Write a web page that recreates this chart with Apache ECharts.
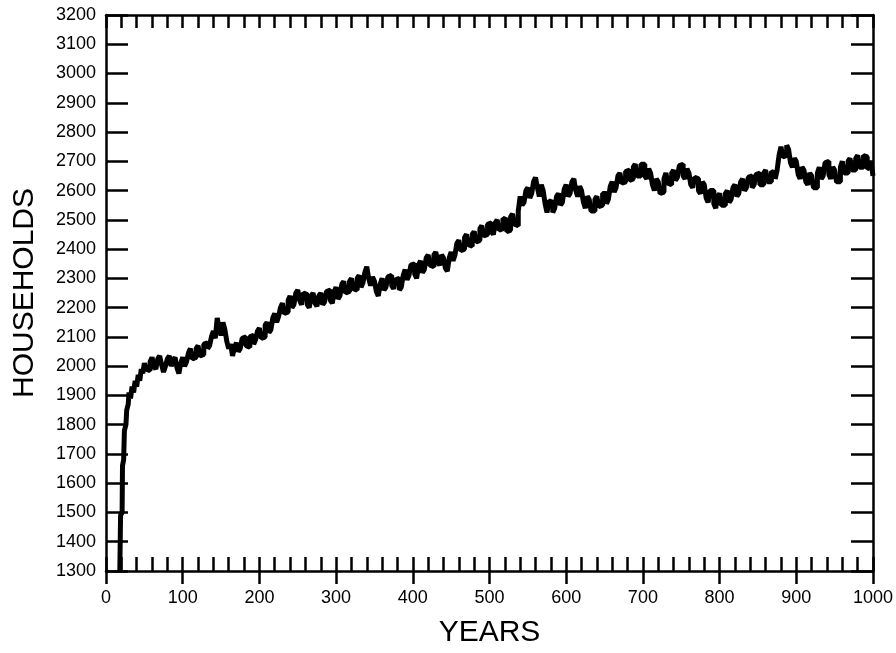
<!DOCTYPE html>
<html>
<head>
<meta charset="utf-8">
<script src="https://cdn.jsdelivr.net/npm/echarts@6/dist/echarts.min.js"></script>
<style>
html,body{margin:0;padding:0;background:#fff;}
#chart{width:896px;height:653px;}
</style>
</head>
<body>
<div id="chart"></div>
<script>
var years = [18,19,21,21.5,23,24,26,27,29,30,32,34,36,38,40,42,44,46,48,
50,52.5,55,57.5,60,62.5,65,67.5,70,72.5,75,77.5,80,82.5,85,87.5,90,92.5,95,97.5,
100,102.5,105,107.5,110,112.5,115,117.5,120,122.5,125,127.5,130,132.5,135,137.5,140,142.5,145,147.5,
150,152.5,155,157.5,160,162.5,165,167.5,170,172.5,175,177.5,180,182.5,185,187.5,190,192.5,195,197.5,
200,202.5,205,207.5,210,212.5,215,217.5,220,222.5,225,227.5,230,232.5,235,237.5,240,242.5,245,247.5,
250,252.5,255,257.5,260,262.5,265,267.5,270,272.5,275,277.5,280,282.5,285,287.5,290,292.5,295,297.5,
300,302.5,305,307.5,310,312.5,315,317.5,320,322.5,325,327.5,330,332.5,335,337.5,340,342.5,345,347.5,
350,352.5,355,357.5,360,362.5,365,367.5,370,372.5,375,377.5,380,382.5,385,387.5,390,392.5,395,397.5,
400,402.5,405,407.5,410,412.5,415,417.5,420,422.5,425,427.5,430,432.5,435,437.5,440,442.5,445,447.5,
450,452.5,455,457.5,460,462.5,465,467.5,470,472.5,475,477.5,480,482.5,485,487.5,490,492.5,495,497.5,
500,502.5,505,507.5,510,512.5,515,517.5,520,522.5,525,527.5,530,532.5,535,537.5,540,542.5,545,547.5,
550,552.5,555,557.5,560,562.5,565,567.5,570,572.5,575,577.5,580,582.5,585,587.5,590,592.5,595,597.5,
600,602.5,605,607.5,610,612.5,615,617.5,620,622.5,625,627.5,630,632.5,635,637.5,640,642.5,645,647.5,
650,652.5,655,657.5,660,662.5,665,667.5,670,672.5,675,677.5,680,682.5,685,687.5,690,692.5,695,697.5,
700,702.5,705,707.5,710,712.5,715,717.5,720,722.5,725,727.5,730,732.5,735,737.5,740,742.5,745,747.5,
750,752.5,755,757.5,760,762.5,765,767.5,770,772.5,775,777.5,780,782.5,785,787.5,790,792.5,795,797.5,
800,802.5,805,807.5,810,812.5,815,817.5,820,822.5,825,827.5,830,832.5,835,837.5,840,842.5,845,847.5,
850,852.5,855,857.5,860,862.5,865,867.5,870,872.5,875,877.5,880,882.5,885,887.5,890,892.5,895,897.5,
900,902.5,905,907.5,910,912.5,915,917.5,920,922.5,925,927.5,930,932.5,935,937.5,940,942.5,945,947.5,
950,952.5,955,957.5,960,962.5,965,967.5,970,972.5,975,977.5,980,982.5,985,987.5,990,992.5,995,997.5,
1000];
var households = [1300,1490,1500,1660,1680,1780,1800,1850,1870,1910,1890,1930,1910,1950,1930,1970,1950,1990,1975,
2010,1990,1985,2015,2030,2000,1990,2025,2035,2005,1980,2000,2025,2035,2000,2020,2030,1995,1975,2010,
2030,2000,2015,2045,2060,2025,2030,2060,2070,2035,2040,2075,2080,2060,2070,2100,2120,2095,2165,2130,
2105,2150,2125,2085,2060,2075,2035,2065,2080,2050,2060,2095,2100,2070,2065,2100,2105,2075,2090,2120,
2130,2095,2100,2140,2150,2115,2125,2165,2180,2150,2170,2200,2215,2180,2185,2225,2240,2200,2210,2250,
2260,2225,2210,2250,2245,2210,2200,2240,2250,2215,2205,2240,2250,2210,2220,2255,2260,2225,2215,2255,
2270,2230,2240,2280,2290,2250,2255,2290,2300,2265,2260,2300,2310,2270,2285,2320,2340,2300,2275,2305,
2290,2255,2240,2280,2300,2260,2270,2305,2310,2275,2265,2295,2300,2260,2270,2310,2330,2295,2310,2345,
2350,2315,2300,2345,2360,2320,2330,2370,2380,2345,2340,2380,2390,2355,2345,2380,2370,2335,2325,2370,
2390,2360,2380,2420,2430,2395,2400,2440,2450,2415,2410,2450,2460,2425,2430,2470,2480,2445,2450,2485,
2490,2460,2450,2490,2500,2465,2470,2505,2500,2460,2465,2510,2520,2485,2480,2530,2580,2550,2560,2600,
2610,2575,2590,2630,2645,2610,2580,2620,2600,2555,2525,2565,2560,2525,2540,2580,2590,2550,2560,2605,
2620,2580,2590,2630,2640,2600,2580,2615,2600,2560,2540,2580,2570,2530,2530,2570,2580,2545,2550,2590,
2590,2555,2570,2615,2630,2595,2610,2650,2660,2625,2630,2665,2670,2635,2640,2680,2690,2650,2650,2690,
2690,2650,2640,2675,2660,2620,2600,2640,2630,2590,2595,2640,2660,2625,2620,2660,2670,2635,2645,2685,
2690,2650,2640,2675,2660,2620,2610,2645,2640,2600,2590,2630,2620,2575,2560,2600,2600,2555,2540,2580,
2590,2550,2550,2590,2600,2560,2570,2610,2620,2580,2590,2630,2640,2600,2610,2645,2650,2610,2620,2655,
2660,2620,2620,2660,2670,2630,2630,2665,2660,2640,2670,2720,2750,2715,2720,2755,2740,2695,2680,2710,
2700,2655,2640,2680,2670,2630,2620,2660,2650,2610,2610,2660,2680,2640,2650,2695,2700,2655,2640,2680,
2670,2630,2630,2680,2700,2660,2660,2700,2710,2670,2670,2710,2720,2680,2680,2720,2715,2675,2680,2700,
2650];
var xTickLabels = ['0','100','200','300','400','500','600','700','800','900','1000'];
var xTitle = 'YEARS';
var yTitle = 'HOUSEHOLDS';

var pts = years.map(function(y,i){return [y, households[i]];});
var font = 'Liberation Sans, Arial, sans-serif';
var chart = echarts.init(document.getElementById('chart'), null, {renderer:'canvas'});
chart.setOption({
  animation:false,
  backgroundColor:'#fff',
  grid:{left:106,right:22,top:15,bottom:81,containLabel:false},
  xAxis:[
    {type:'value',position:'bottom',min:0,max:1000,interval:100,
     axisLine:{show:true,onZero:false,lineStyle:{color:'#000',width:2.5}},
     axisTick:{show:true,inside:false,length:13,lineStyle:{color:'#000',width:2.5}},
     axisLabel:{show:true,margin:18,color:'#000',fontSize:18,fontFamily:font,
       formatter:function(v){return xTickLabels[Math.round(v/100)];}},
     splitLine:{show:false},
     name:xTitle,nameLocation:'middle',nameGap:47,
     nameTextStyle:{color:'#000',fontSize:30,fontFamily:font}},
    {type:'value',position:'bottom',min:0,max:1000,interval:20,
     axisLine:{show:false,onZero:false},
     axisTick:{show:true,inside:true,length:14,lineStyle:{color:'#000',width:2.5}},
     axisLabel:{show:false},splitLine:{show:false}},
    {type:'value',position:'top',min:0,max:1000,interval:20,
     axisLine:{show:true,onZero:false,lineStyle:{color:'#000',width:2.5}},
     axisTick:{show:true,inside:true,length:13,lineStyle:{color:'#000',width:2.5}},
     axisLabel:{show:false},splitLine:{show:false}}
  ],
  yAxis:[
    {type:'value',position:'left',min:1300,max:3200,interval:100,
     axisLine:{show:true,onZero:false,lineStyle:{color:'#000',width:2.5}},
     axisTick:{show:true,inside:true,length:22,lineStyle:{color:'#000',width:2.5}},
     axisLabel:{show:true,margin:10,color:'#000',fontSize:18,fontFamily:font,
       formatter:function(v){return String(v);}},
     splitLine:{show:false},
     name:yTitle,nameLocation:'middle',nameGap:66,
     nameTextStyle:{color:'#000',fontSize:30,fontFamily:font}},
    {type:'value',position:'right',min:1300,max:3200,interval:100,
     axisLine:{show:true,onZero:false,lineStyle:{color:'#000',width:2.5}},
     axisTick:{show:true,inside:true,length:22,lineStyle:{color:'#000',width:2.5}},
     axisLabel:{show:false},splitLine:{show:false}}
  ],
  series:[{
    type:'line',xAxisIndex:0,yAxisIndex:0,data:pts,step:'end',
    symbol:'none',lineStyle:{color:'#000',width:5},
    z:1
  }]
});
</script>
</body>
</html>
